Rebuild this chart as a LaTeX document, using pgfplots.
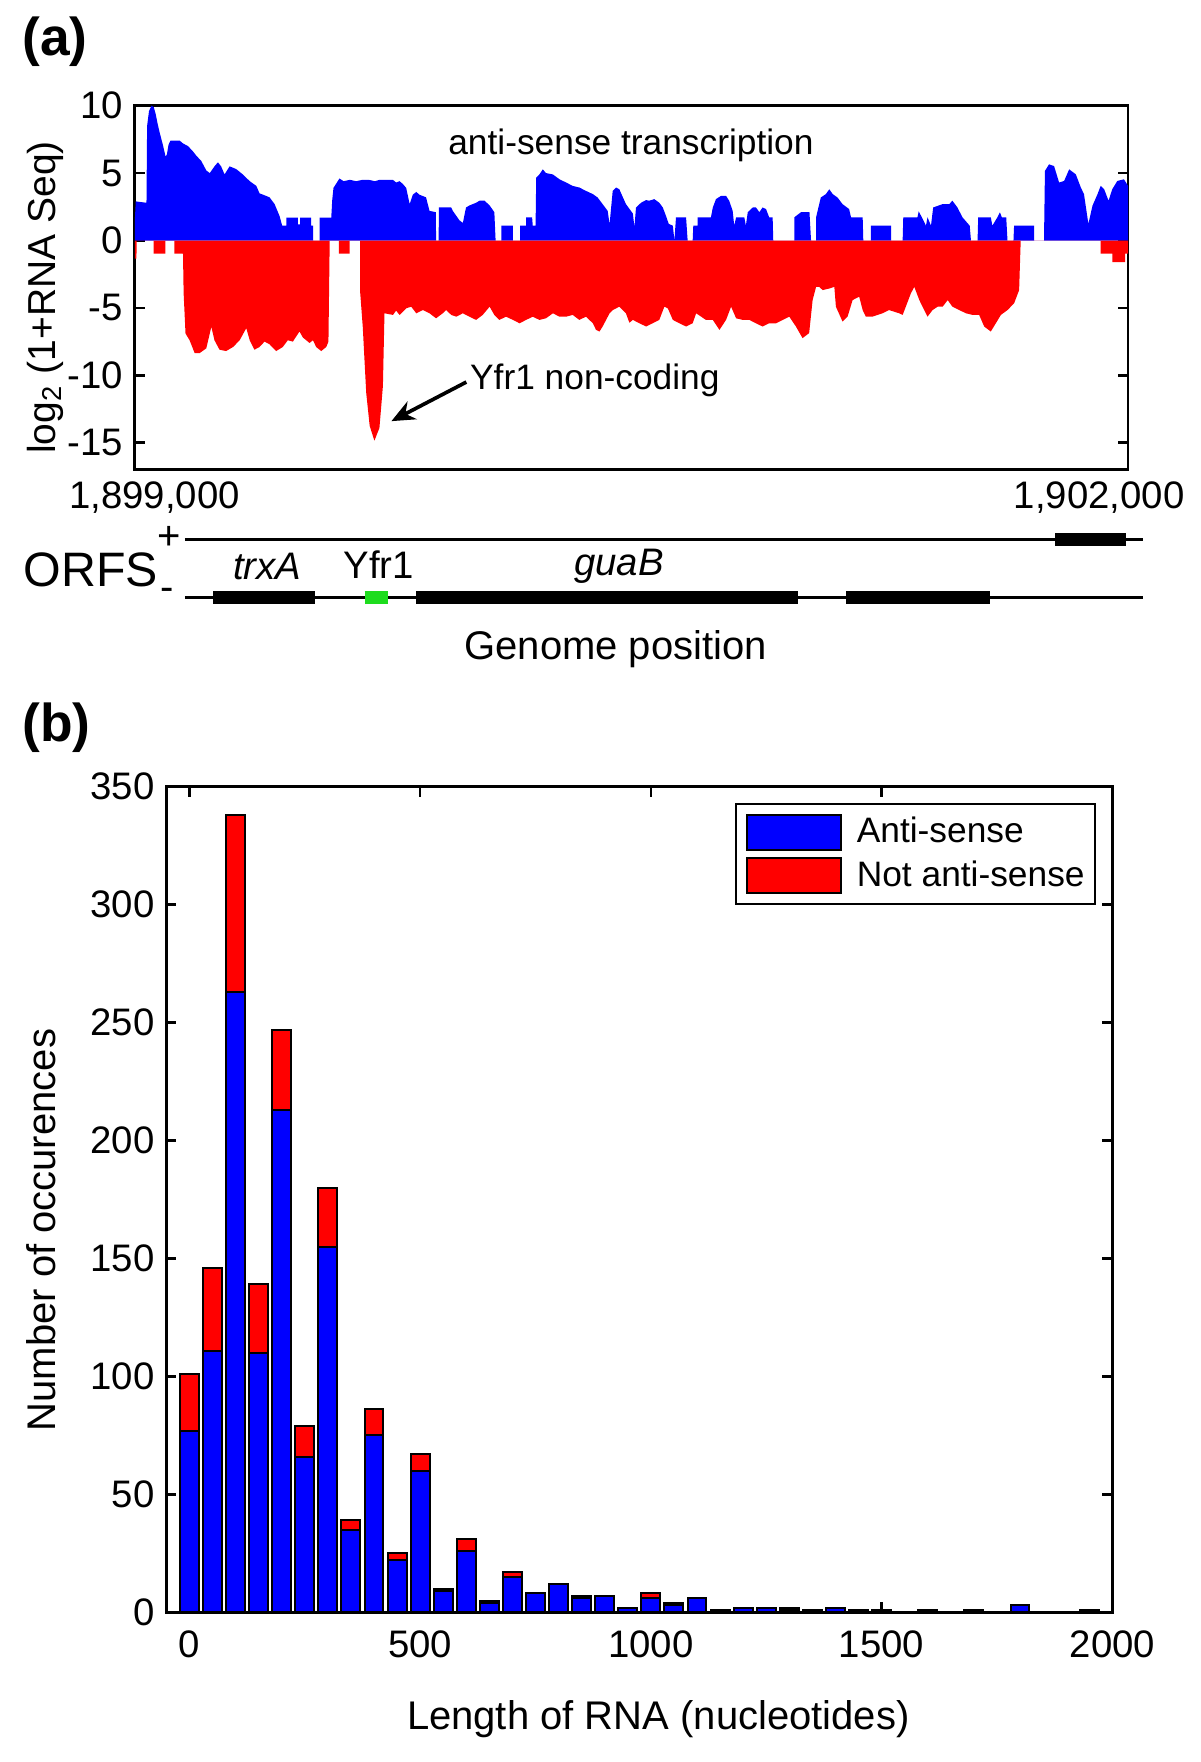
\documentclass[border=0pt]{standalone}
\usepackage{fontspec}
\setmainfont{Liberation Sans}
\usepackage{pgfplots}
\usepackage{pgfplotstable}
\pgfplotsset{compat=1.18}
\usetikzlibrary{arrows.meta}

\pgfplotstableread{
x a n
0 77 24
50 111 35
100 263 75
150 110 29
200 213 34
250 66 13
300 155 25
350 35 4
400 75 11
450 22 3
500 60 7
550 9 1
600 26 5
650 4 1
700 15 2
750 8 0
800 12 0
850 6 1
900 7 0
950 2 0
1000 6 2
1050 3 1
1100 6 0
1150 1 0
1200 2 0
1250 2 0
1300 1 1
1350 1 0
1400 2 0
1450 1 0
1500 1 0
1600 1 0
1700 1 0
1800 3 0
1950 1 0
}\lengthdata

\definecolor{yfrgreen}{RGB}{30,220,30}

\begin{document}
\begin{tikzpicture}
\path (0pt,0pt) rectangle (360pt,-528.6pt);

\node[font=\fontsize{16}{18}\selectfont\bfseries] at (16.5pt,-12.5pt) {(a)};
\node[font=\fontsize{16}{18}\selectfont\bfseries] at (16.9pt,-218.4pt) {(b)};

% ---------------- panel (a)
\begin{axis}[
  at={(40.45pt,-140.9pt)}, anchor=south west,
  scale only axis, width=297.97pt, height=109.2pt,
  xmin=-63, xmax=3092, ymin=-17, ymax=10,
  xtick={0,3000}, xticklabels={{1,899,000},{1,902,000}},
  xtick style={draw=none},
  ytick={-15,-10,-5,0,5,10},
  tick align=inside, major tick length=3pt,
  minor tick num=0,
  axis line style={line width=0.8pt},
  every tick/.style={black, line width=0.8pt},
  /pgf/number format/assume math mode=true,
  ticklabel style={font=\fontsize{11.5}{13}\selectfont},
  ylabel={log\textsubscript{2} (1+RNA Seq)},
  ylabel style={at={(axis description cs:-0.0905,0.473)}, anchor=center, font=\fontsize{11.7}{14}\selectfont},
  clip=true,
]
\addplot[fill=blue, draw=none] table[x=u,y=v] {
u v
-63 1.5
-60 2.9
-26 2.8
-24 8.5
-18 9.6
-10 10.0
-3 9.9
3 9.4
10 8.6
16 8.0
26 7.1
35 6.2
39 6.4
44 7.1
50 7.4
80 7.4
90 7.2
106 7.0
122 6.6
132 6.3
148 5.9
164 5.2
175 5.0
190 5.5
201 5.8
211 5.5
222 4.9
238 5.5
259 5.3
280 4.9
302 4.4
323 4.05
333 3.5
344 3.4
355 3.3
365 3.2
381 2.7
397 1.8
405 1.1
418 1.1
418 1.7
455 1.7
455 1.2
462 1.2
462 1.7
497 1.7
497 1.1
503 1.1
503 0
524 0
524 1.7
561 1.7
564 3.0
568 3.9
587 4.6
600 4.4
620 4.5
640 4.4
660 4.5
680 4.5
700 4.4
714 4.5
730 4.5
757 4.5
767 4.3
778 4.4
788 4.2
799 3.9
810 2.7
820 3.4
831 3.6
841 3.4
862 3.2
873 2.2
893 2.1
894 0
902 0
903 2.45
942 2.45
947 2.2
968 1.5
979 1.3
989 2.45
1000 2.6
1021 2.8
1032 2.95
1048 2.95
1064 2.6
1079 2.1
1083 0
1101 0
1101 1.1
1138 1.1
1138 0
1161 0
1161 1.1
1180 1.1
1180 1.72
1199 1.72
1201 1.1
1210 1.1
1212 4.66
1222 4.9
1233 5.28
1243 5.0
1265 4.9
1286 4.54
1307 4.3
1328 4.05
1349 3.93
1370 3.68
1392 3.44
1407 3.19
1423 2.7
1439 2.2
1445 1.2
1455 3.68
1466 3.93
1476 3.8
1497 2.7
1519 2.0
1524 1.0
1529 2.45
1545 2.8
1561 3.0
1571 2.95
1587 3.07
1603 2.8
1614 2.45
1624 1.84
1633 1.23
1646 1.1
1651 0
1656 1.72
1688 1.72
1693 0
1709 0
1711 1.1
1725 1.1
1725 1.72
1767 1.72
1773 2.45
1783 3.07
1799 3.31
1815 3.31
1825 2.95
1836 2.2
1841 1.1
1847 1.72
1873 1.72
1878 1.1
1884 2.1
1900 2.45
1910 2.45
1921 2.1
1931 2.45
1942 2.33
1952 1.72
1963 1.72
1965 0
2032 0
2032 1.72
2053 2.1
2080 2.1
2085 0
2101 0
2101 1.72
2116 3.19
2132 3.44
2143 3.8
2154 3.44
2169 3.19
2185 2.70
2206 2.33
2212 1.72
2249 1.72
2251 0
2275 0
2275 1.1
2339 1.1
2339 0
2376 0
2378 1.72
2423 1.72
2427 2.16
2437 1.72
2450 1.1
2455 1.72
2466 1.1
2473 2.45
2503 2.7
2524 2.7
2534 2.95
2550 2.45
2566 1.72
2589 1.1
2593 0
2614 0
2616 1.72
2656 1.72
2661 1.1
2677 1.72
2685 2.09
2691 1.72
2705 1.72
2709 0
2728 0
2730 1.1
2794 1.1
2794 0
2825 0
2828 5.16
2841 5.65
2857 5.52
2873 4.3
2889 4.42
2905 5.28
2926 4.91
2942 3.93
2952 3.44
2966 1.23
2979 2.58
2995 3.44
3005 4.05
3016 3.81
3030 2.95
3042 3.81
3058 4.42
3079 4.54
3092 4.05
} \closedcycle;
\addplot[fill=red, draw=none] table[x=u,y=v] {
u v
-63 -1.35
-58 -1.35
-57 0
-3 0
-3 -0.98
34 -0.98
34 0
63 0
63 -0.98
90 -0.98
92 -3.9
98 -6.9
111 -7.4
127 -8.35
143 -8.35
164 -8.0
180 -6.4
190 -7.4
206 -8.1
227 -8.2
249 -7.9
270 -7.4
291 -6.5
302 -7.4
317 -8.1
333 -7.9
349 -7.5
365 -7.7
386 -8.2
407 -7.9
423 -7.4
439 -7.5
460 -6.75
471 -7.2
492 -7.6
503 -7.4
513 -7.9
529 -8.2
545 -7.9
552 -7.5
556 0
585 0
585 -0.98
619 -0.98
619 0
653 0
653 -3.9
661 -6.4
672 -11.3
683 -13.75
698 -14.85
714 -13.9
725 -10.8
730 -5.4
757 -5.52
767 -5.2
778 -5.52
799 -5.03
815 -4.91
831 -5.4
852 -5.16
873 -5.4
894 -5.77
915 -5.4
926 -5.16
942 -5.52
958 -5.65
979 -5.4
1000 -5.65
1021 -5.89
1042 -5.52
1064 -4.91
1079 -5.52
1095 -5.89
1116 -5.65
1138 -5.89
1159 -6.14
1180 -5.89
1201 -5.65
1222 -5.89
1243 -5.77
1265 -5.4
1286 -5.65
1307 -5.65
1328 -5.52
1349 -5.89
1370 -5.65
1392 -6.14
1402 -6.63
1413 -6.75
1423 -6.38
1445 -5.4
1455 -5.16
1476 -4.91
1497 -5.4
1508 -6.1
1519 -5.89
1540 -6.14
1561 -6.38
1582 -6.14
1603 -5.89
1619 -4.91
1630 -5.03
1646 -5.89
1667 -6.14
1688 -6.38
1709 -6.14
1720 -5.4
1736 -5.65
1751 -5.89
1773 -5.89
1794 -6.63
1815 -5.89
1831 -4.91
1847 -5.77
1868 -5.89
1889 -5.89
1910 -6.14
1931 -6.38
1952 -6.14
1974 -6.14
1995 -5.89
2016 -5.65
2037 -6.38
2058 -7.24
2079 -6.87
2090 -4.42
2101 -3.44
2111 -3.44
2122 -3.68
2143 -3.56
2159 -3.44
2164 -4.91
2185 -6.01
2201 -5.65
2217 -4.42
2238 -4.17
2249 -5.16
2259 -5.65
2280 -5.65
2312 -5.4
2333 -5.16
2365 -5.4
2376 -5.52
2386 -4.91
2402 -3.93
2413 -3.44
2429 -4.42
2439 -4.91
2455 -5.65
2471 -5.16
2487 -4.91
2503 -4.91
2519 -4.42
2534 -4.91
2556 -5.16
2577 -5.40
2598 -5.52
2619 -5.52
2635 -6.38
2656 -6.75
2672 -6.14
2688 -5.52
2709 -5.16
2730 -4.66
2746 -3.68
2751 0
3005 0
3005 -0.98
3042 -0.98
3042 -1.60
3083 -1.60
3083 -0.98
3092 -0.98
} \closedcycle;
\node[font=\fontsize{10.6}{12}\selectfont] at (axis cs:1513,7.05) {anti-sense transcription};
\node[font=\fontsize{10.6}{12}\selectfont, anchor=west, inner sep=0pt] at (axis cs:1000,-10.4) {Yfr1 non-coding};
\draw[-{Stealth[length=7pt,width=6pt]}, line width=1.1pt] (axis cs:990,-10.5) -- (axis cs:752,-13.4);
\end{axis}

% ---------------- ORF track
\begin{axis}[
  at={(40.45pt,-200pt)}, anchor=south west,
  scale only axis, width=297.97pt, height=60pt,
  xmin=-63, xmax=3092, ymin=-200, ymax=-140,
  hide axis, clip=false,
]
\addplot[black, line width=0.85pt] coordinates {(96,-161.8) (3139,-161.8)};
\addplot[black, line width=0.85pt] coordinates {(96,-179.3) (3139,-179.3)};
\addplot[black, line width=3.8pt] coordinates {(2861,-161.8) (3086,-161.8)};
\addplot[black, line width=3.8pt] coordinates {(186,-179.3) (510,-179.3)};
\addplot[yfrgreen, line width=3.8pt] coordinates {(667,-179.3) (742,-179.3)};
\addplot[black, line width=3.8pt] coordinates {(831,-179.3) (2044,-179.3)};
\addplot[black, line width=3.8pt] coordinates {(2197,-179.3) (2654,-179.3)};
\end{axis}
\node[font=\fontsize{14.5}{17}\selectfont] at (27.2pt,-170.9pt) {ORFS};
\node[font=\fontsize{12}{14}\selectfont] at (50.8pt,-161.5pt) {+};
\node[font=\fontsize{12}{14}\selectfont] at (50.0pt,-178.4pt) {-};
\node[font=\fontsize{11.5}{13}\selectfont\itshape] at (80.2pt,-169.9pt) {trxA};
\node[font=\fontsize{11.5}{13}\selectfont] at (113.6pt,-169.5pt) {Yfr1};
\node[font=\fontsize{11.5}{13}\selectfont\itshape] at (185.7pt,-169.9pt) {guaB};
\node[font=\fontsize{12}{14}\selectfont] at (184.7pt,-194.8pt) {Genome position};

% ---------------- panel (b)
\begin{axis}[
  at={(49.9pt,-483.7pt)}, anchor=south west,
  scale only axis, width=283.8pt, height=247.7pt,
  xmin=-50, xmax=2000, ymin=0, ymax=350,
  xtick={0,500,1000,1500,2000},
  ytick={0,50,100,150,200,250,300,350},
  tick align=inside, major tick length=3pt,
  minor tick num=0,
  axis line style={line width=0.8pt},
  every tick/.style={black, line width=0.8pt},
  /pgf/number format/assume math mode=true,
  /pgf/number format/set thousands separator={},
  ticklabel style={font=\fontsize{11.5}{13}\selectfont},
  xticklabel style={yshift=-2pt},
  ybar stacked, bar width=41,
  xlabel={Length of RNA (nucleotides)},
  ylabel={Number of occurences},
  xlabel style={at={(axis description cs:0.52,-0.129)}, anchor=center, font=\fontsize{12}{14}\selectfont},
  ylabel style={at={(axis description cs:-0.132,0.463)}, anchor=center, font=\fontsize{12}{14}\selectfont},
  legend style={at={(1,1)}, anchor=north east, xshift=-5pt, yshift=-5pt,
    draw=black, line width=0.6pt, font=\fontsize{10.6}{12}\selectfont,
    inner xsep=3pt, inner ysep=2.8pt, row sep=2pt, column sep=4.4pt,
    nodes={inner sep=0pt}, cells={anchor=west}},
  legend image code/.code={\draw[#1, line width=0.6pt] (0pt,-5.25pt) rectangle (28.3pt,5.25pt);},
]
\addplot[fill=blue, draw=black, line width=0.6pt] table[x=x,y=a] {\lengthdata};
\addplot[fill=red, draw=black, line width=0.6pt] table[x=x,y=n] {\lengthdata};
\legend{Anti-sense, Not anti-sense}
\end{axis}
\end{tikzpicture}
\end{document}
